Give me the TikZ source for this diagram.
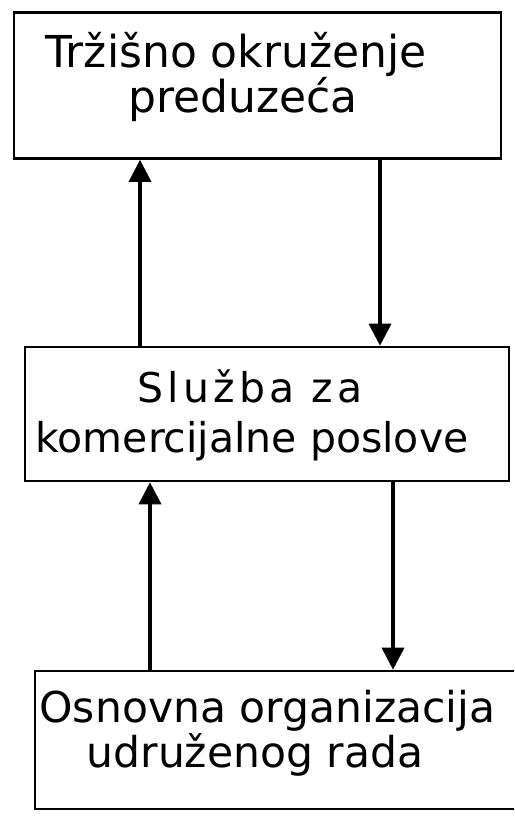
\documentclass[tikz,border=0pt]{standalone}
\usepackage{fontspec}
\setmainfont{DejaVu Sans}
\usetikzlibrary{arrows.meta}
\begin{document}
\begin{tikzpicture}[x=1pt,y=-1pt,
  box/.style={draw=black, line width=2.6pt, rectangle, inner sep=0pt},
  linetxt/.style={anchor=base, inner sep=0pt},
  arr/.style={draw=black, line width=3.6pt, -{Triangle[length=22pt,width=22pt]}}]
\clip (0,0) rectangle (514,816);
% boxes
\node[box, minimum width=487pt, minimum height=146pt] (top) at (257.5,85.5) {};
\node[box, minimum width=484pt, minimum height=134pt] (mid) at (267,414) {};
\node[box, minimum width=525pt, minimum height=138pt] (bot) at (297.5,740) {};
% texts
\node[linetxt, font=\fontsize{44}{44}\selectfont] (t1) at (236,67) {Tržišno okruženje};
\node[linetxt, font=\fontsize{44}{44}\selectfont] (t2) at (243,112) {preduzeća};
\node[linetxt, font=\fontsize{41}{41}\selectfont\addfontfeature{LetterSpace=10}] (m1) at (250,402) {Služba za};
\node[linetxt, font=\fontsize{41}{41}\selectfont] (m2) at (252,452) {komercijalne poslove};
\node[linetxt, font=\fontsize{42.5}{42.5}\selectfont] (b1) at (267.5,722) {Osnovna organizacija};
\node[linetxt, font=\fontsize{42.5}{42.5}\selectfont] (b2) at (255,767) {udruženog rada};
% arrow columns
\coordinate (c1) at (140,0);
\coordinate (c2) at (380,0);
\coordinate (c3) at (150,0);
\coordinate (c4) at (393,0);
\draw[arr] (mid.north -| c1) -- (top.south -| c1);
\draw[arr] (top.south -| c2) -- (mid.north -| c2);
\draw[arr] (bot.north -| c3) -- (mid.south -| c3);
\draw[arr] (mid.south -| c4) -- (bot.north -| c4);
\end{tikzpicture}
\end{document}
